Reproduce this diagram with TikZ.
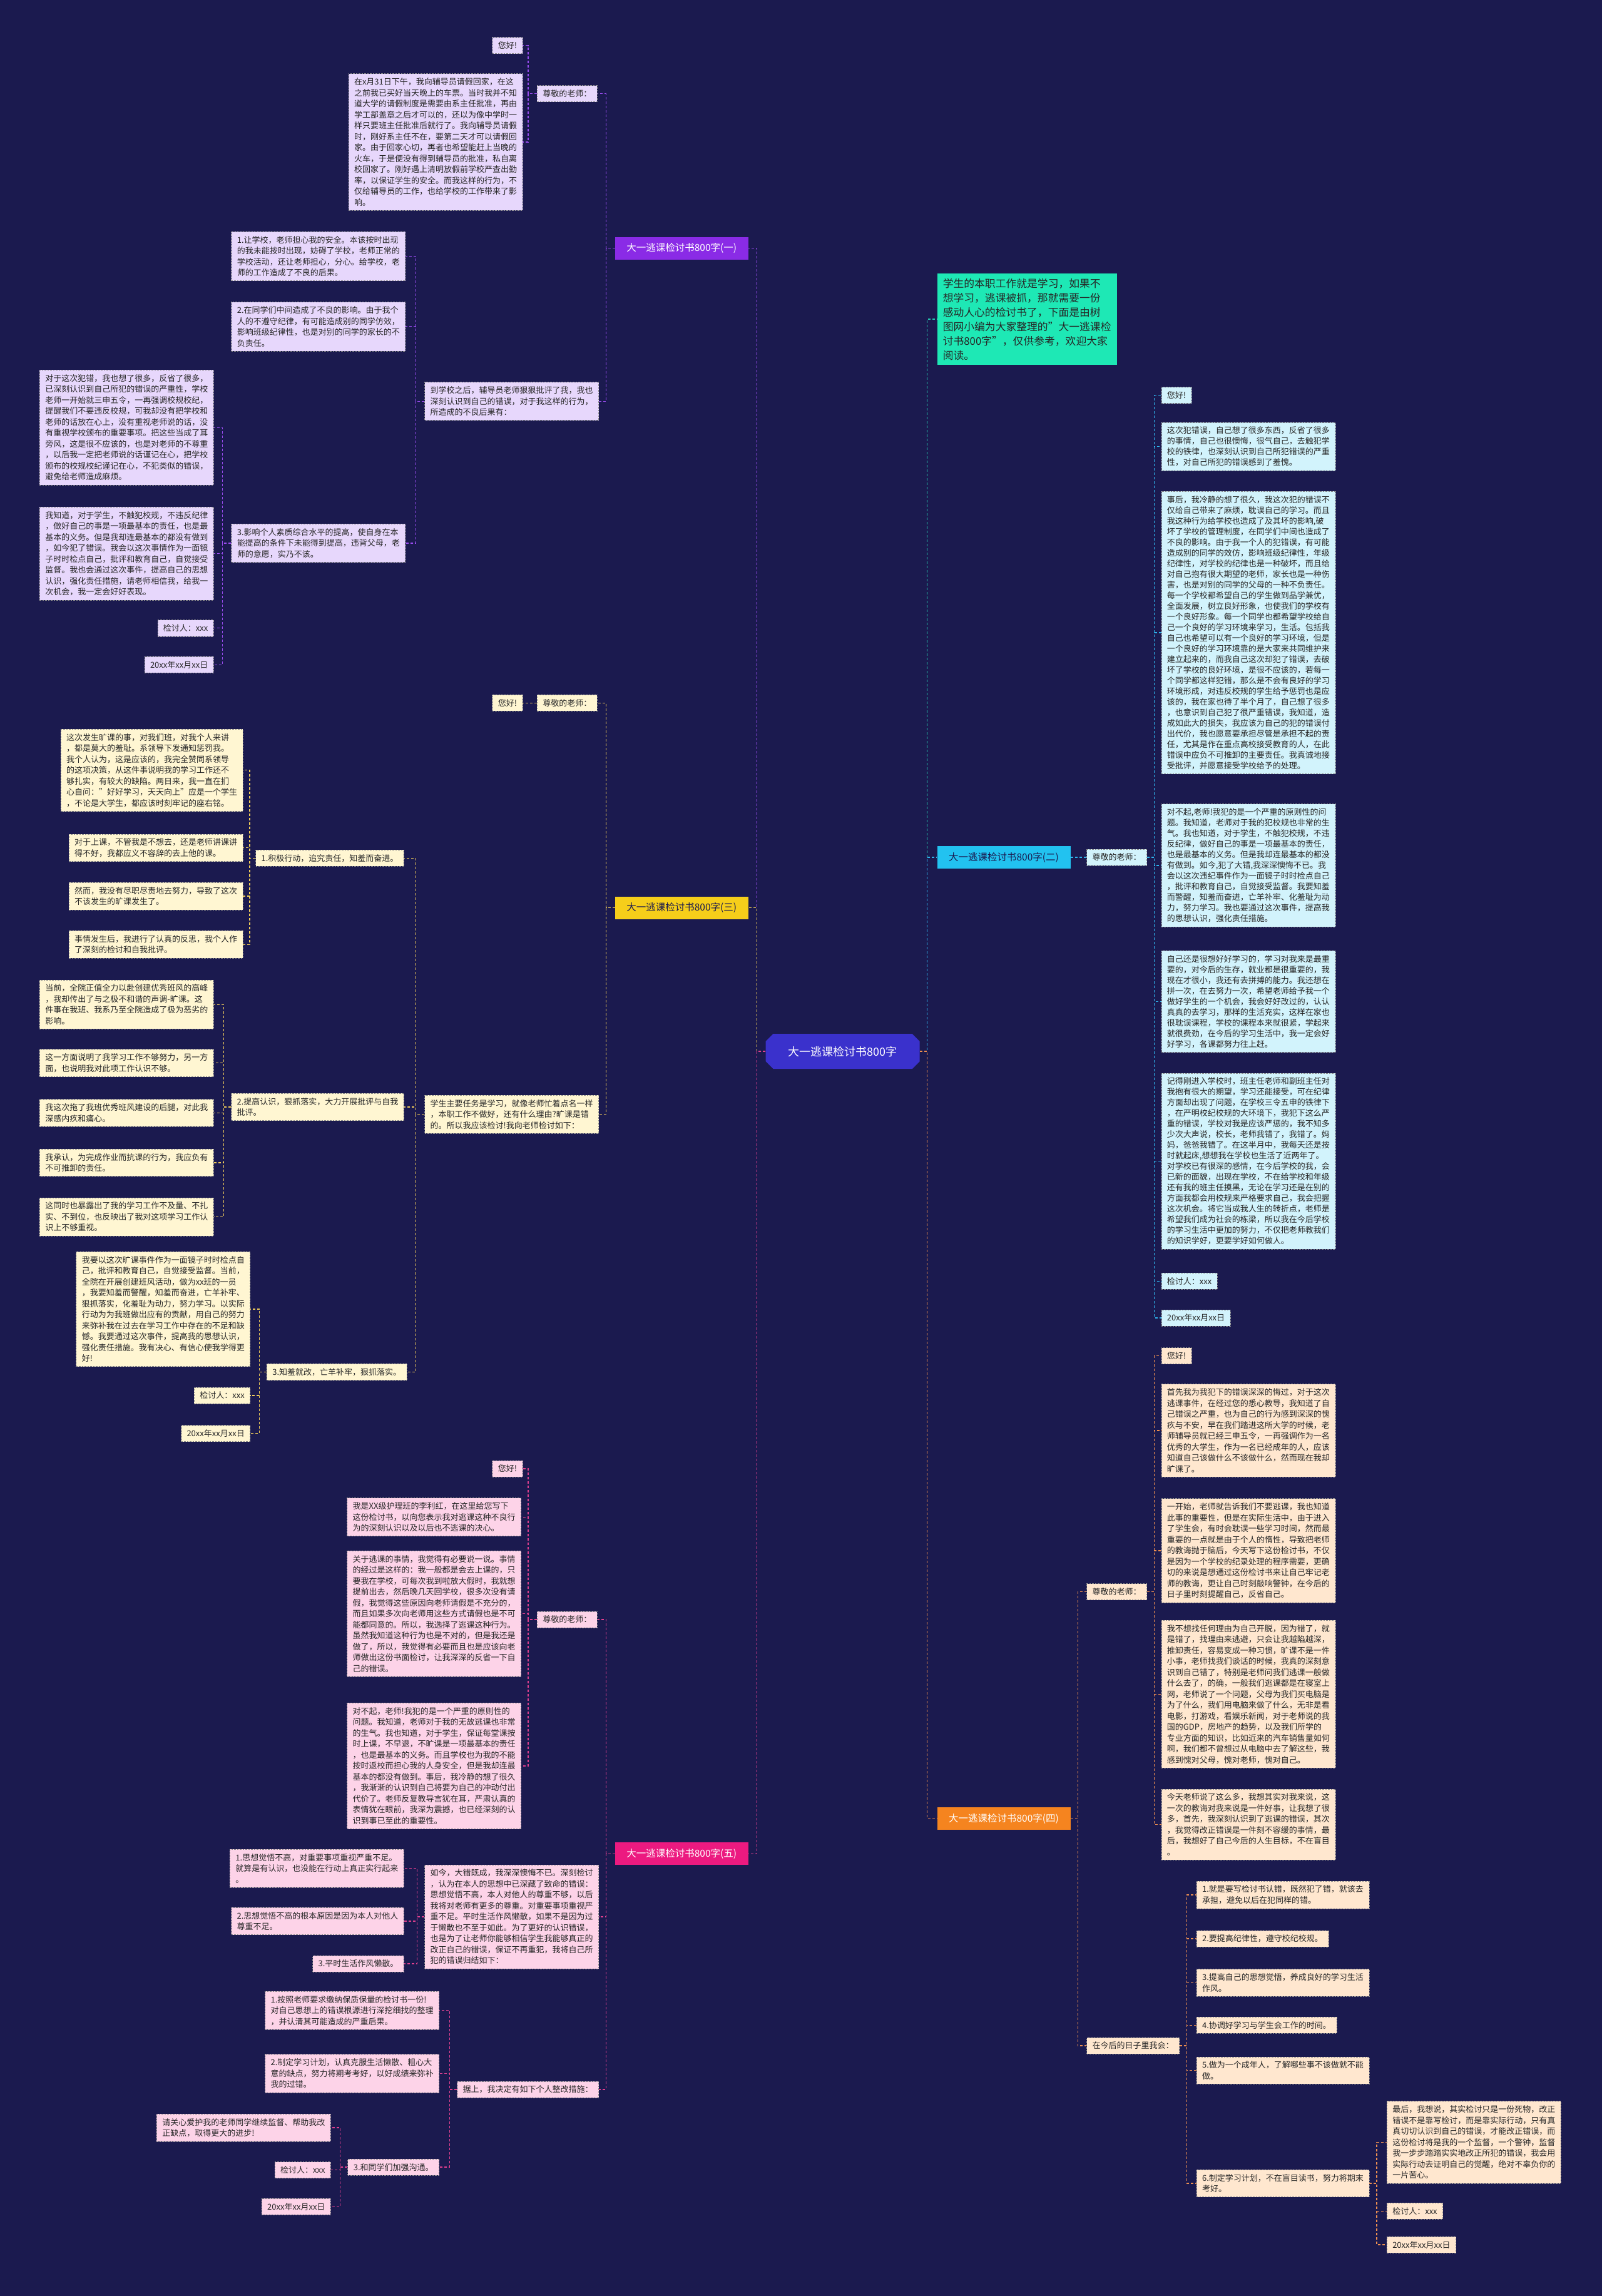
\documentclass[tikz,border=0pt]{standalone}
\usepackage{fontspec}
\setmainfont{Noto Sans CJK SC}
\usetikzlibrary{shapes.misc}

\definecolor{bgNavy}{HTML}{1B1A4F}
\definecolor{rootBlue}{HTML}{3A31CC}
\definecolor{vioHead}{HTML}{8A2BE6}
\definecolor{vioLine}{HTML}{9B4DF2}
\definecolor{vioFill}{HTML}{E7D7FC}
\definecolor{yelHead}{HTML}{F6CE1A}
\definecolor{yelLine}{HTML}{EFCB5A}
\definecolor{yelFill}{HTML}{FFF6D2}
\definecolor{pnkHead}{HTML}{EC1A80}
\definecolor{pnkLine}{HTML}{E0408F}
\definecolor{pnkFill}{HTML}{FDD3E8}
\definecolor{cyaHead}{HTML}{22C2F0}
\definecolor{cyaLine}{HTML}{2FB4EC}
\definecolor{cyaFill}{HTML}{D2F3FC}
\definecolor{orgHead}{HTML}{F5841F}
\definecolor{orgLine}{HTML}{EE8F50}
\definecolor{orgFill}{HTML}{FFE7CF}
\definecolor{mintFill}{HTML}{1EE8B5}
\definecolor{mintLine}{HTML}{25C9B0}

\tikzset{
  leaf/.style={draw=black!45, line width=0.7pt, dash pattern=on 2.5pt off 2pt,
    fill=#1, text=black!85, align=left, font=\fontsize{13}{17.5}\selectfont,
    inner xsep=9pt, inner ysep=7pt},
  leafc/.style={leaf=cyaFill, font=\fontsize{13}{17}\selectfont},
  head/.style={fill=#1, text=white, font=\fontsize{15.5}{18}\selectfont,
    minimum width=213pt, minimum height=36pt, inner sep=0pt},
  link/.style={draw=#1, line width=1.3pt, dash pattern=on 4pt off 3pt}
}

\begin{document}
\begin{tikzpicture}[x=2.34pt, y=-2.34pt]
\fill[bgNavy] (0,0) rectangle (1094,1568);
\useasboundingbox (0,0) rectangle (1094,1568);

\node[chamfered rectangle, chamfered rectangle xsep=14pt, fill=rootBlue, text=white,
  font=\fontsize{18}{20}\selectfont, minimum width=246pt, minimum height=56pt,
  inner sep=0pt] (root) at (575.5,718) {大一逃课检讨书800字};

% branch one
\node[head=vioHead] (b1) at (465.5,169.5) {大一逃课检讨书800字(一)};
\node[leaf=vioFill, anchor=east] (b1a) at (408,64) {尊敬的老师：};
\node[leaf=vioFill, anchor=east] (b1a1) at (357,31) {您好!};
\node[leaf=vioFill, anchor=east] (b1a2) at (357,97) {在x月31日下午，我向辅导员请假回家，在这\\之前我已买好当天晚上的车票。当时我并不知\\道大学的请假制度是需要由系主任批准，再由\\学工部盖章之后才可以的，还以为像中学时一\\样只要班主任批准后就行了。我向辅导员请假\\时，刚好系主任不在，要第二天才可以请假回\\家。由于回家心切，再者也希望能赶上当晚的\\火车，于是便没有得到辅导员的批准，私自离\\校回家了。刚好遇上清明放假前学校严查出勤\\率，以保证学生的安全。而我这样的行为，不\\仅给辅导员的工作，也给学校的工作带来了影\\响。};
\node[leaf=vioFill, anchor=east] (b1b) at (409,274) {到学校之后，辅导员老师狠狠批评了我，我也\\深刻认识到自己的错误，对于我这样的行为，\\所造成的不良后果有：};
\node[leaf=vioFill, anchor=east] (b1b1) at (277,175) {1.让学校，老师担心我的安全。本该按时出现\\的我未能按时出现，妨碍了学校，老师正常的\\学校活动，还让老师担心，分心。给学校，老\\师的工作造成了不良的后果。};
\node[leaf=vioFill, anchor=east] (b1b2) at (277,223) {2.在同学们中间造成了不良的影响。由于我个\\人的不遵守纪律，有可能造成别的同学仿效，\\影响班级纪律性，也是对别的同学的家长的不\\负责任。};
\node[leaf=vioFill, anchor=east] (b1b3) at (277,371) {3.影响个人素质综合水平的提高，使自身在本\\能提高的条件下未能得到提高，违背父母，老\\师的意愿，实乃不该。};
\node[leaf=vioFill, anchor=east] (b1c1) at (146,292) {对于这次犯错，我也想了很多，反省了很多，\\已深刻认识到自己所犯的错误的严重性，学校\\老师一开始就三申五令，一再强调校规校纪，\\提醒我们不要违反校规，可我却没有把学校和\\老师的话放在心上，没有重视老师说的话，没\\有重视学校颁布的重要事项。把这些当成了耳\\旁风，这是很不应该的，也是对老师的不尊重\\，以后我一定把老师说的话谨记在心，把学校\\颁布的校规校纪谨记在心，不犯类似的错误，\\避免给老师造成麻烦。};
\node[leaf=vioFill, anchor=east] (b1c2) at (146,378) {我知道，对于学生，不触犯校规，不违反纪律\\，做好自己的事是一项最基本的责任，也是最\\基本的义务。但是我却连最基本的都没有做到\\，如今犯了错误。我会以这次事情作为一面镜\\子时时检点自己，批评和教育自己，自觉接受\\监督。我也会通过这次事件，提高自己的思想\\认识，强化责任措施，请老师相信我，给我一\\次机会，我一定会好好表现。};
\node[leaf=vioFill, anchor=east] (b1c3) at (146,429) {检讨人：xxx};
\node[leaf=vioFill, anchor=east] (b1c4) at (146,454) {20xx年xx月xx日};

% branch three
\node[head=yelHead, text=bgNavy] (b3) at (465.5,620) {大一逃课检讨书800字(三)};
\node[leaf=yelFill, anchor=east] (b3a) at (408,480) {尊敬的老师：};
\node[leaf=yelFill, anchor=east] (b3a1) at (357,480) {您好!};
\node[leaf=yelFill, anchor=east] (b3b) at (409,761) {学生主要任务是学习，就像老师忙着点名一样\\，本职工作不做好，还有什么理由?旷课是错\\的。所以我应该检讨!我向老师检讨如下：};
\node[leaf=yelFill, anchor=east] (b3b1) at (276,586) {1.积极行动，追究责任，知羞而奋进。};
\node[leaf=yelFill, anchor=east] (b3b2) at (276,756) {2.提高认识，狠抓落实，大力开展批评与自我\\批评。};
\node[leaf=yelFill, anchor=east] (b3b3) at (278,937) {3.知羞就改，亡羊补牢，狠抓落实。};
\node[leaf=yelFill, anchor=east] (b3c1) at (166,526) {这次发生旷课的事，对我们班，对我个人来讲\\，都是莫大的羞耻。系领导下发通知惩罚我。\\我个人认为，这是应该的，我完全赞同系领导\\的这项决策，从这件事说明我的学习工作还不\\够扎实，有较大的缺陷。两日来，我一直在扪\\心自问："好好学习，天天向上"应是一个学生\\，不论是大学生，都应该时刻牢记的座右铭。};
\node[leaf=yelFill, anchor=east] (b3c2) at (166,579) {对于上课，不管我是不想去，还是老师讲课讲\\得不好，我都应义不容辞的去上他的课。};
\node[leaf=yelFill, anchor=east] (b3c3) at (166,612) {然而，我没有尽职尽责地去努力，导致了这次\\不该发生的旷课发生了。};
\node[leaf=yelFill, anchor=east] (b3c4) at (166,645) {事情发生后，我进行了认真的反思，我个人作\\了深刻的检讨和自我批评。};
\node[leaf=yelFill, anchor=east] (b3d1) at (146,686) {当前，全院正值全力以赴创建优秀班风的高峰\\，我却传出了与之极不和谐的声调-旷课。这\\件事在我班、我系乃至全院造成了极为恶劣的\\影响。};
\node[leaf=yelFill, anchor=east] (b3d2) at (146,726) {这一方面说明了我学习工作不够努力，另一方\\面，也说明我对此项工作认识不够。};
\node[leaf=yelFill, anchor=east] (b3d3) at (146,760) {我这次拖了我班优秀班风建设的后腿，对此我\\深感内疚和痛心。};
\node[leaf=yelFill, anchor=east] (b3d4) at (146,794) {我承认，为完成作业而抗课的行为，我应负有\\不可推卸的责任。};
\node[leaf=yelFill, anchor=east] (b3d5) at (146,831) {这同时也暴露出了我的学习工作不及量、不扎\\实、不到位，也反映出了我对这项学习工作认\\识上不够重视。};
\node[leaf=yelFill, anchor=east] (b3e1) at (171,894) {我要以这次旷课事件作为一面镜子时时检点自\\己，批评和教育自己，自觉接受监督。当前，\\全院在开展创建班风活动，做为xx班的一员\\，我要知羞而警醒，知羞而奋进，亡羊补牢、\\狠抓落实，化羞耻为动力，努力学习。以实际\\行动为为我班做出应有的贡献，用自己的努力\\来弥补我在过去在学习工作中存在的不足和缺\\憾。我要通过这次事件，提高我的思想认识，\\强化责任措施。我有决心、有信心使我学得更\\好!};
\node[leaf=yelFill, anchor=east] (b3e2) at (171,953) {检讨人：xxx};
\node[leaf=yelFill, anchor=east] (b3e3) at (171,979) {20xx年xx月xx日};

% branch five
\node[head=pnkHead] (b5) at (465.5,1266) {大一逃课检讨书800字(五)};
\node[leaf=pnkFill, anchor=east] (b5a) at (408,1106) {尊敬的老师：};
\node[leaf=pnkFill, anchor=east] (b5a1) at (357,1003) {您好!};
\node[leaf=pnkFill, anchor=east] (b5a2) at (356,1036) {我是XX级护理班的李利红，在这里给您写下\\这份检讨书，以向您表示我对逃课这种不良行\\为的深刻认识以及以后也不逃课的决心。};
\node[leaf=pnkFill, anchor=east] (b5a3) at (356,1102) {关于逃课的事情，我觉得有必要说一说。事情\\的经过是这样的：我一般都是会去上课的，只\\要我在学校，可每次我到啦放大假时，我就想\\提前出去，然后晚几天回学校，很多次没有请\\假，我觉得这些原因向老师请假是不充分的，\\而且如果多次向老师用这些方式请假也是不可\\能都同意的。所以，我选择了逃课这种行为。\\虽然我知道这种行为也是不对的，但是我还是\\做了，所以，我觉得有必要而且也是应该向老\\师做出这份书面检讨，让我深深的反省一下自\\己的错误。};
\node[leaf=pnkFill, anchor=east] (b5a4) at (356,1206) {对不起，老师!我犯的是一个严重的原则性的\\问题。我知道，老师对于我的无故逃课也非常\\的生气。我也知道，对于学生，保证每堂课按\\时上课，不早退，不旷课是一项最基本的责任\\，也是最基本的义务。而且学校也为我的不能\\按时返校而担心我的人身安全，但是我却连最\\基本的都没有做到。事后，我冷静的想了很久\\，我渐渐的认识到自己将要为自己的冲动付出\\代价了。老师反复教导言犹在耳，严肃认真的\\表情犹在眼前，我深为震撼，也已经深刻的认\\识到事已至此的重要性。};
\node[leaf=pnkFill, anchor=east] (b5b) at (409,1309) {如今，大错既成，我深深懊悔不已。深刻检讨\\，认为在本人的思想中已深藏了致命的错误：\\思想觉悟不高，本人对他人的尊重不够，以后\\我将对老师有更多的尊重。对重要事项重视严\\重不足。平时生活作风懒散，如果不是因为过\\于懒散也不至于如此。为了更好的认识错误，\\也是为了让老师你能够相信学生我能够真正的\\改正自己的错误，保证不再重犯，我将自己所\\犯的错误归结如下：};
\node[leaf=pnkFill, anchor=east] (b5b1) at (276,1276) {1.思想觉悟不高，对重要事项重视严重不足。\\就算是有认识，也没能在行动上真正实行起来\\。};
\node[leaf=pnkFill, anchor=east] (b5b2) at (276,1312) {2.思想觉悟不高的根本原因是因为本人对他人\\尊重不足。};
\node[leaf=pnkFill, anchor=east] (b5b3) at (276,1341) {3.平时生活作风懒散。};
\node[leaf=pnkFill, anchor=east] (b5c) at (409,1427) {据上，我决定有如下个人整改措施：};
\node[leaf=pnkFill, anchor=east] (b5c1) at (300,1373) {1.按照老师要求缴纳保质保量的检讨书一份!\\对自己思想上的错误根源进行深挖细找的整理\\，并认清其可能造成的严重后果。};
\node[leaf=pnkFill, anchor=east] (b5c2) at (300,1416) {2.制定学习计划，认真克服生活懒散、粗心大\\意的缺点，努力将期考考好，以好成绩来弥补\\我的过错。};
\node[leaf=pnkFill, anchor=east] (b5c3) at (300,1480) {3.和同学们加强沟通。};
\node[leaf=pnkFill, anchor=east] (b5d1) at (226,1453) {请关心爱护我的老师同学继续监督、帮助我改\\正缺点，取得更大的进步!};
\node[leaf=pnkFill, anchor=east] (b5d2) at (226,1482) {检讨人：xxx};
\node[leaf=pnkFill, anchor=east] (b5d3) at (226,1507) {20xx年xx月xx日};

% intro
\node[fill=mintFill, text=black!85, align=left, font=\fontsize{16.8}{23}\selectfont,
  inner xsep=9pt, inner ysep=8pt, anchor=west] (intro) at (640,218) {学生的本职工作就是学习，如果不\\想学习，逃课被抓，那就需要一份\\感动人心的检讨书了，下面是由树\\图网小编为大家整理的"大一逃课检\\讨书800字"，仅供参考，欢迎大家\\阅读。};

% branch two
\node[head=cyaHead, text=bgNavy] (b2) at (685.5,585.5) {大一逃课检讨书800字(二)};
\node[leafc, anchor=west] (b2a) at (742,585.5) {尊敬的老师：};
\node[leafc, anchor=west] (b2a1) at (793,270) {您好!};
\node[leafc, anchor=west] (b2a2) at (793,305) {这次犯错误，自己想了很多东西，反省了很多\\的事情，自己也很懊悔，很气自己，去触犯学\\校的铁律，也深刻认识到自己所犯错误的严重\\性，对自己所犯的错误感到了羞愧。};
\node[leafc, anchor=west] (b2a3) at (793,432) {事后，我冷静的想了很久，我这次犯的错误不\\仅给自己带来了麻烦，耽误自己的学习。而且\\我这种行为给学校也造成了及其坏的影响,破\\坏了学校的管理制度，在同学们中间也造成了\\不良的影响。由于我一个人的犯错误，有可能\\造成别的同学的效仿，影响班级纪律性，年级\\纪律性，对学校的纪律也是一种破坏，而且给\\对自己抱有很大期望的老师，家长也是一种伤\\害，也是对别的同学的父母的一种不负责任。\\每一个学校都希望自己的学生做到品学兼优，\\全面发展，树立良好形象，也使我们的学校有\\一个良好形象。每一个同学也都希望学校给自\\己一个良好的学习环境来学习，生活。包括我\\自己也希望可以有一个良好的学习环境，但是\\一个良好的学习环境靠的是大家来共同维护来\\建立起来的，而我自己这次却犯了错误，去破\\坏了学校的良好环境，是很不应该的，若每一\\个同学都这样犯错，那么是不会有良好的学习\\环境形成，对违反校规的学生给予惩罚也是应\\该的，我在家也待了半个月了，自己想了很多\\，也意识到自己犯了很严重错误，我知道，造\\成如此大的损失，我应该为自己的犯的错误付\\出代价，我也愿意要承担尽管是承担不起的责\\任，尤其是作在重点高校接受教育的人，在此\\错误中应负不可推卸的主要责任。我真诚地接\\受批评，并愿意接受学校给予的处理。};
\node[leafc, anchor=west] (b2a4) at (793,591) {对不起,老师!我犯的是一个严重的原则性的问\\题。我知道，老师对于我的犯校规也非常的生\\气。我也知道，对于学生，不触犯校规，不违\\反纪律，做好自己的事是一项最基本的责任，\\也是最基本的义务。但是我却连最基本的都没\\有做到。如今,犯了大错,我深深懊悔不已。我\\会以这次违纪事件作为一面镜子时时检点自己\\，批评和教育自己，自觉接受监督。我要知羞\\而警醒，知羞而奋进，亡羊补牢、化羞耻为动\\力，努力学习。我也要通过这次事件，提高我\\的思想认识，强化责任措施。};
\node[leafc, anchor=west] (b2a5) at (793,684) {自己还是很想好好学习的，学习对我来是最重\\要的，对今后的生存，就业都是很重要的，我\\现在才很小，我还有去拼搏的能力。我还想在\\拼一次，在去努力一次，希望老师给予我一个\\做好学生的一个机会，我会好好改过的，认认\\真真的去学习，那样的生活充实，这样在家也\\很耽误课程，学校的课程本来就很紧，学起来\\就很费劲，在今后的学习生活中，我一定会好\\好学习，各课都努力往上赶。};
\node[leafc, anchor=west] (b2a6) at (793,793) {记得刚进入学校时，班主任老师和副班主任对\\我抱有很大的期望，学习还能接受，可在纪律\\方面却出现了问题，在学校三令五申的铁律下\\，在严明校纪校规的大环境下，我犯下这么严\\重的错误，学校对我是应该严惩的，我不知多\\少次大声说，校长，老师我错了，我错了。妈\\妈，爸爸我错了。在这半月中，我每天还是按\\时就起床,想想我在学校也生活了近两年了。\\对学校已有很深的感情，在今后学校的我，会\\已新的面貌，出现在学校，不在给学校和年级\\还有我的班主任摸黑，无论在学习还是在别的\\方面我都会用校规来严格要求自己，我会把握\\这次机会。将它当成我人生的转折点，老师是\\希望我们成为社会的栋梁，所以我在今后学校\\的学习生活中更加的努力，不仅把老师教我们\\的知识学好，更要学好如何做人。};
\node[leafc, anchor=west] (b2a7) at (793,875) {检讨人：xxx};
\node[leafc, anchor=west] (b2a8) at (793,900) {20xx年xx月xx日};

% branch four
\node[head=orgHead] (b4) at (685.5,1242) {大一逃课检讨书800字(四)};
\node[leaf=orgFill, anchor=west] (b4a) at (742,1087) {尊敬的老师：};
\node[leaf=orgFill, anchor=west] (b4a1) at (793,926) {您好!};
\node[leaf=orgFill, anchor=west] (b4a2) at (793,977) {首先我为我犯下的错误深深的悔过，对于这次\\逃课事件，在经过您的悉心教导，我知道了自\\己错误之严重，也为自己的行为感到深深的愧\\疚与不安，早在我们踏进这所大学的时候，老\\师辅导员就已经三申五令，一再强调作为一名\\优秀的大学生，作为一名已经成年的人，应该\\知道自己该做什么不该做什么，然而现在我却\\旷课了。};
\node[leaf=orgFill, anchor=west] (b4a3) at (793,1059) {一开始，老师就告诉我们不要逃课，我也知道\\此事的重要性，但是在实际生活中，由于进入\\了学生会，有时会耽误一些学习时间，然而最\\重要的一点就是由于个人的惰性，导致把老师\\的教诲抛于脑后，今天写下这份检讨书，不仅\\是因为一个学校的纪录处理的程序需要，更确\\切的来说是想通过这份检讨书来让自己牢记老\\师的教诲，更让自己时刻敲响警钟，在今后的\\日子里时刻提醒自己，反省自己。};
\node[leaf=orgFill, anchor=west] (b4a4) at (793,1157) {我不想找任何理由为自己开脱，因为错了，就\\是错了，找理由来逃避，只会让我越陷越深，\\推卸责任，容易变成一种习惯，旷课不是一件\\小事，老师找我们谈话的时候，我真的深刻意\\识到自己错了，特别是老师问我们逃课一般做\\什么去了，的确，一般我们逃课都是在寝室上\\网，老师说了一个问题，父母为我们买电脑是\\为了什么，我们用电脑来做了什么，无非是看\\电影，打游戏，看娱乐新闻，对于老师说的我\\国的GDP，房地产的趋势，以及我们所学的\\专业方面的知识，比如近来的汽车销售量如何\\啊，我们都不曾想过从电脑中去了解这些，我\\感到愧对父母，愧对老师，愧对自己。};
\node[leaf=orgFill, anchor=west] (b4a5) at (793,1246) {今天老师说了这么多，我想其实对我来说，这\\一次的教诲对我来说是一件好事，让我想了很\\多，首先，我深刻认识到了逃课的错误，其次\\，我觉得改正错误是一件刻不容缓的事情，最\\后，我想好了自己今后的人生目标，不在盲目\\。};
\node[leaf=orgFill, anchor=west] (b4b) at (742,1397) {在今后的日子里我会：};
\node[leaf=orgFill, anchor=west] (b4b1) at (817,1294) {1.就是要写检讨书认错，既然犯了错，就该去\\承担，避免以后在犯同样的错。};
\node[leaf=orgFill, anchor=west] (b4b2) at (817,1324) {2.要提高纪律性，遵守校纪校规。};
\node[leaf=orgFill, anchor=west] (b4b3) at (817,1354) {3.提高自己的思想觉悟，养成良好的学习生活\\作风。};
\node[leaf=orgFill, anchor=west] (b4b4) at (817,1383) {4.协调好学习与学生会工作的时间。};
\node[leaf=orgFill, anchor=west] (b4b5) at (817,1414) {5.做为一个成年人，了解哪些事不该做就不能\\做。};
\node[leaf=orgFill, anchor=west] (b4b6) at (817,1491) {6.制定学习计划，不在盲目读书，努力将期末\\考好。};
\node[leaf=orgFill, anchor=west] (b4c1) at (947,1463) {最后，我想说，其实检讨只是一份死物，改正\\错误不是靠写检讨，而是靠实际行动，只有真\\真切切认识到自己的错误，才能改正错误，而\\这份检讨将是我的一个监督，一个警钟，监督\\我一步步踏踏实实地改正所犯的错误，我会用\\实际行动去证明自己的觉醒，绝对不辜负你的\\一片苦心。};
\node[leaf=orgFill, anchor=west] (b4c2) at (947,1510) {检讨人：xxx};
\node[leaf=orgFill, anchor=west] (b4c3) at (947,1533) {20xx年xx月xx日};

% connectors, left side
\draw[link=vioLine] (root.west) -- ++(-6,0) |- (b1.east);
\draw[link=yelLine] (root.west) -- ++(-6,0) |- (b3.east);
\draw[link=pnkLine] (root.west) -- ++(-6,0) |- (b5.east);
\foreach \c in {b1a,b1b} \draw[link=vioLine] (b1.west) -- ++(-6,0) |- (\c.east);
\foreach \c in {b1a1,b1a2} \draw[link=vioLine] (b1a.west) -- ++(-6,0) |- (\c.east);
\foreach \c in {b1b1,b1b2,b1b3} \draw[link=vioLine] (b1b.west) -- ++(-6,0) |- (\c.east);
\foreach \c in {b1c1,b1c2,b1c3,b1c4} \draw[link=vioLine] (b1b3.west) -- ++(-6,0) |- (\c.east);
\foreach \c in {b3a,b3b} \draw[link=yelLine] (b3.west) -- ++(-6,0) |- (\c.east);
\draw[link=yelLine] (b3a.west) -- (b3a1.east);
\foreach \c in {b3b1,b3b2,b3b3} \draw[link=yelLine] (b3b.west) -- ++(-6,0) |- (\c.east);
\foreach \c in {b3c1,b3c2,b3c3,b3c4} \draw[link=yelLine] (b3b1.west) -- ++(-4,0) |- (\c.east);
\foreach \c in {b3d1,b3d2,b3d3,b3d4,b3d5} \draw[link=yelLine] (b3b2.west) -- ++(-5,0) |- (\c.east);
\foreach \c in {b3e1,b3e2,b3e3} \draw[link=yelLine] (b3b3.west) -- ++(-5,0) |- (\c.east);
\foreach \c in {b5a,b5b,b5c} \draw[link=pnkLine] (b5.west) -- ++(-6,0) |- (\c.east);
\foreach \c in {b5a1,b5a2,b5a3,b5a4} \draw[link=pnkLine] (b5a.west) -- ++(-6,0) |- (\c.east);
\foreach \c in {b5b1,b5b2,b5b3} \draw[link=pnkLine] (b5b.west) -- ++(-5,0) |- (\c.east);
\foreach \c in {b5c1,b5c2,b5c3} \draw[link=pnkLine] (b5c.west) -- ++(-5,0) |- (\c.east);
\foreach \c in {b5d1,b5d2,b5d3} \draw[link=pnkLine] (b5c3.west) -- ++(-5,0) |- (\c.east);

% connectors, right side
\draw[link=mintLine] (root.east) -- ++(5,0) |- (intro.west);
\draw[link=cyaLine] (root.east) -- ++(5,0) |- (b2.west);
\draw[link=orgLine] (root.east) -- ++(5,0) |- (b4.west);
\draw[link=cyaLine] (b2.east) -- (b2a.west);
\foreach \c in {b2a1,b2a2,b2a3,b2a4,b2a5,b2a6,b2a7,b2a8} \draw[link=cyaLine] (b2a.east) -- ++(5,0) |- (\c.west);
\foreach \c in {b4a,b4b} \draw[link=orgLine] (b4.east) -- ++(5,0) |- (\c.west);
\foreach \c in {b4a1,b4a2,b4a3,b4a4,b4a5} \draw[link=orgLine] (b4a.east) -- ++(5,0) |- (\c.west);
\foreach \c in {b4b1,b4b2,b4b3,b4b4,b4b5,b4b6} \draw[link=orgLine] (b4b.east) -- ++(5,0) |- (\c.west);
\foreach \c in {b4c1,b4c2,b4c3} \draw[link=orgLine] (b4b6.east) -- ++(5,0) |- (\c.west);
\end{tikzpicture}
\end{document}
